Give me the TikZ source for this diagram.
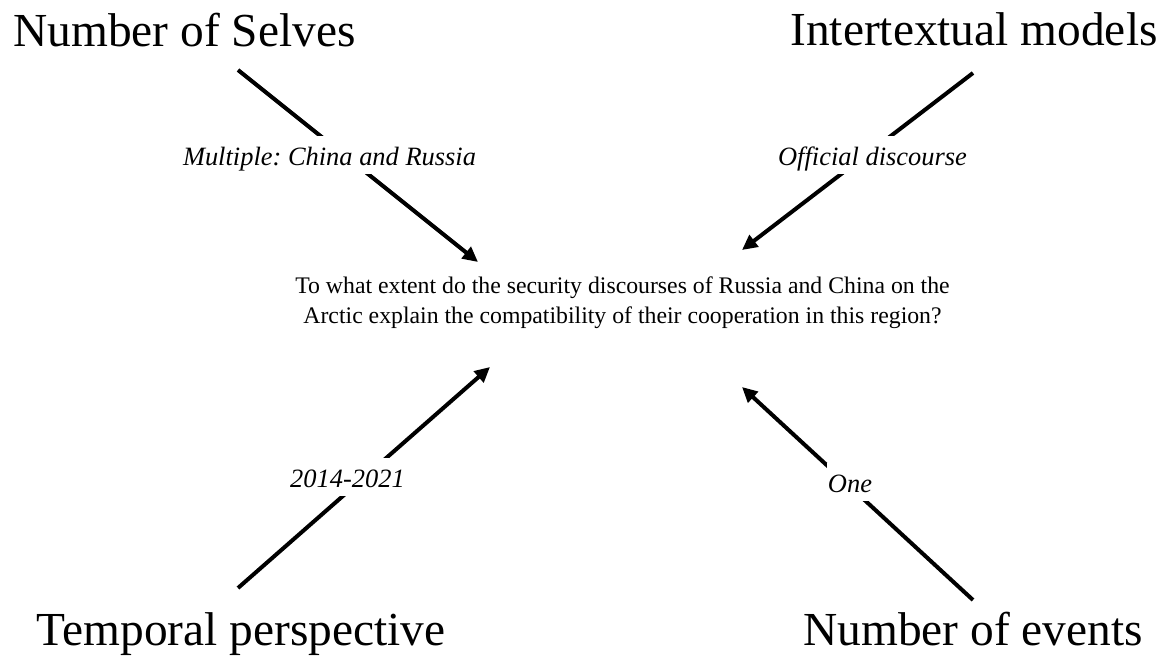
\documentclass[tikz,border=0pt]{standalone}
\usepackage{fontspec}
\setmainfont{Liberation Serif}[ItalicFont={Liberation Serif Italic}]
\frenchspacing
\usetikzlibrary{arrows.meta}

\begin{document}
\begin{tikzpicture}[x=0.025cm, y=-0.025cm,
    heading/.style={inner sep=0pt, anchor=base, font=\fontsize{33.7}{40}\selectfont},
    edgelabel/.style={fill=white, inner xsep=1pt, inner ysep=0pt, text height=0.725cm, text depth=0.225cm, anchor=base, font=\fontsize{18.8}{22}\selectfont\itshape},
    arr/.style={-{Triangle[length=0.38cm, width=0.36cm]}, line width=0.1cm}]
    \path[use as bounding box, fill=white] (0,0) rectangle (1166,659);

    \node[heading] (selves) at (184.5,46) {Number of Selves};
    \node[heading] (models) at (974,45) {Intertextual models};
    \node[heading] (temporal) at (241,645) {Temporal perspective};
    \node[heading] (events) at (973,645) {Number of events};
    \node (question) [inner sep=0pt, align=center, font=\fontsize{16.9}{21.3}\selectfont] at (622.5,302.5)
        {To what extent do the security discourses of Russia and China on the\\Arctic explain the compatibility of their cooperation in this region?};

    \coordinate (selvesFrom) at (238,70);
    \coordinate (selvesTo) at (478,262);
    \coordinate (modelsFrom) at (973,73);
    \coordinate (modelsTo) at (742,250);
    \coordinate (temporalFrom) at (238,588);
    \coordinate (temporalTo) at (490,367);
    \coordinate (eventsFrom) at (973,600);
    \coordinate (eventsTo) at (742,387);

    \draw[arr] (selvesFrom) -- (selvesTo);
    \draw[arr] (modelsFrom) -- (modelsTo);
    \draw[arr] (temporalFrom) -- (temporalTo);
    \draw[arr] (eventsFrom) -- (eventsTo);

    \node[edgelabel] (multiple) at (329.5,165) {Multiple: China and Russia};
    \node[edgelabel] (official) at (872.5,165) {Official discourse};
    \node[edgelabel] (years) at (347.5,487) {2014-2021};
    \node[edgelabel] (one) at (850,492) {One};
\end{tikzpicture}
\end{document}
